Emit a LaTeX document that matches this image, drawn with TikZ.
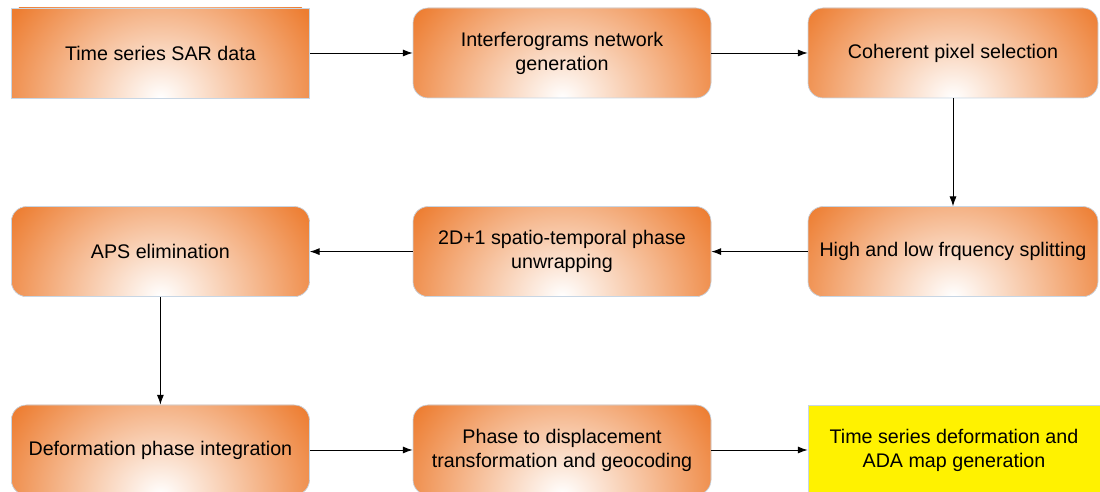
\documentclass[tikz,border=0pt]{standalone}
\usepackage{fontspec}
\setmainfont{Liberation Sans}
\usepackage{tikz}
\usetikzlibrary{arrows.meta}
\definecolor{boxorange}{RGB}{237,125,49}
\definecolor{boxedge}{RGB}{200,214,228}
\tikzset{every node/.style={font=\fontsize{14}{17}\selectfont},
  % orange box, light at the bottom middle
  stagebox/.style={draw=boxedge, line width=0.5pt, align=center,
    minimum width=7.45cm, minimum height=2.25cm, rounded corners=0.375cm,
    path picture={
      \fill[boxorange] (path picture bounding box.south west) rectangle (path picture bounding box.north east);
      \shade[inner color=white, outer color=boxorange] (path picture bounding box.south) ellipse [x radius=4.4cm, y radius=3.8cm];
    }},
  squarebox/.style={stagebox, sharp corners},
  resultbox/.style={draw=boxedge, line width=0.5pt, align=center, fill=yellow,
    minimum width=7.3cm, minimum height=2.25cm},
  flow/.style={-{Latex[length=7pt,width=5pt]}, line width=0.6pt}}

\begin{document}
\begin{tikzpicture}
  \useasboundingbox (0,0) rectangle (27.5,12.3);
  % first row
  \node[squarebox] (sar) at (4.01,10.975) {Time series SAR data};
  \node[stagebox] (ifg) at (14.05,10.975) {Interferograms network\\generation};
  \node[stagebox, minimum width=7.25cm] (cps) at (23.825,10.975) {Coherent pixel selection};
  % second row
  \node[stagebox] (aps) at (4.01,6.01) {APS elimination};
  \node[stagebox] (unw) at (14.05,6.01) {2D+1 spatio-temporal phase\\unwrapping};
  \node[stagebox, minimum width=7.25cm] (split) at (23.825,6.01) {High and low frquency splitting};
  % third row
  \node[stagebox] (integ) at (4.01,1.05) {Deformation phase integration};
  \node[stagebox] (geo) at (14.05,1.05) {Phase to displacement\\transformation and geocoding};
  \node[resultbox] (ada) at (23.85,1.05) {Time series deformation and\\ADA map generation};

  \draw[flow] (sar) -- (ifg);
  \draw[flow] (ifg) -- (cps);
  \draw[flow] (cps) -- (split);
  \draw[flow] (split) -- (unw);
  \draw[flow] (unw) -- (aps);
  \draw[flow] (aps) -- (integ);
  \draw[flow] (integ) -- (geo);
  \draw[flow] (geo) -- (ada);
\end{tikzpicture}
\end{document}
